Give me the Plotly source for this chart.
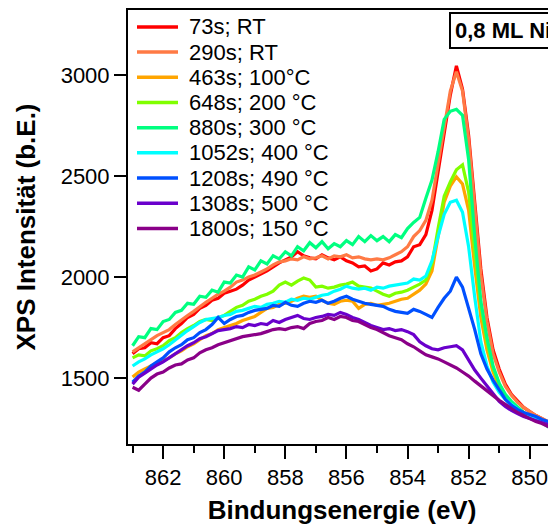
import plotly.graph_objects as go

energy = [863.0, 862.8, 862.6, 862.4, 862.2, 862.0, 861.8, 861.6, 861.4, 861.2,
          861.0, 860.8, 860.6, 860.4, 860.2, 860.0, 859.8, 859.6, 859.4, 859.2,
          859.0, 858.8, 858.6, 858.4, 858.2, 858.0, 857.8, 857.6, 857.4, 857.2,
          857.0, 856.8, 856.6, 856.4, 856.2, 856.0, 855.8, 855.6, 855.4, 855.2,
          855.0, 854.8, 854.6, 854.4, 854.2, 854.0, 853.8, 853.6, 853.4, 853.2,
          853.0, 852.8, 852.6, 852.4, 852.2, 852.0, 851.8, 851.6, 851.4, 851.2,
          851.0, 850.8, 850.6, 850.4, 850.2, 850.0, 849.8, 849.6, 849.4, 849.2,
          849.0]

s073_RT = [1620, 1645, 1650, 1675, 1670, 1700, 1710, 1745, 1770, 1800,
           1815, 1845, 1860, 1885, 1895, 1920, 1930, 1940, 1960, 1985,
           2000, 2015, 2030, 2050, 2070, 2085, 2100, 2125, 2105, 2095,
           2090, 2110, 2095, 2085, 2100, 2080, 2070, 2050, 2055, 2030,
           2040, 2070, 2060, 2075, 2080, 2100, 2150, 2160, 2210, 2330,
           2520, 2720, 2900, 3045, 2930, 2700, 2380, 2040, 1800, 1640,
           1545, 1470, 1420, 1385, 1355, 1335, 1315, 1300, 1280, 1260,
           1245]

s290_RT = [1630, 1650, 1670, 1690, 1710, 1725, 1740, 1765, 1790, 1810,
           1830, 1855, 1875, 1895, 1915, 1930, 1950, 1975, 1985, 2000,
           2010, 2025, 2040, 2060, 2075, 2080, 2090, 2085, 2100, 2090,
           2095, 2105, 2090, 2105, 2100, 2110, 2095, 2100, 2090, 2085,
           2090, 2085, 2095, 2110, 2125, 2150, 2200, 2230, 2280, 2380,
           2560, 2760, 2920, 3015, 2920, 2680, 2350, 2010, 1780, 1620,
           1530, 1460, 1415, 1380, 1355, 1335, 1315, 1300, 1285, 1270,
           1255]

s463_100C = [1505, 1530, 1545, 1560, 1575, 1585, 1600, 1620, 1635, 1655,
             1670, 1690, 1710, 1720, 1740, 1750, 1760, 1770, 1785, 1795,
             1805, 1825, 1845, 1850, 1865, 1870, 1880, 1895, 1905, 1900,
             1905, 1885, 1870, 1865, 1880, 1885, 1880, 1845, 1865, 1870,
             1860, 1865, 1870, 1880, 1890, 1895, 1915, 1935, 1965, 2030,
             2200, 2370, 2450, 2495, 2460, 2330, 2050, 1800, 1640, 1530,
             1455, 1410, 1375, 1350, 1330, 1310, 1295, 1280, 1265, 1250,
             1240]

s648_200C = [1600, 1615, 1610, 1635, 1645, 1660, 1685, 1700, 1725, 1745,
             1760, 1780, 1790, 1785, 1800, 1810, 1830, 1850, 1860, 1880,
             1890, 1905, 1915, 1930, 1960, 1975, 1960, 1980, 1995, 1985,
             1950, 1955, 1945, 1950, 1960, 1965, 1975, 1955, 1950, 1945,
             1930, 1915, 1905, 1920, 1925, 1935, 1950, 1965, 1985, 2065,
             2240, 2400, 2470, 2530, 2555, 2420, 2130, 1860, 1680, 1550,
             1470, 1415, 1380, 1350, 1330, 1310, 1295, 1280, 1265, 1250,
             1235]

s880_300C = [1660, 1705, 1700, 1745, 1740, 1780, 1790, 1825, 1835, 1870,
             1865, 1905, 1900, 1935, 1925, 1975, 1970, 2010, 2000, 2050,
             2035, 2080, 2065, 2105, 2090, 2125, 2105, 2150, 2130, 2170,
             2145, 2175, 2140, 2165, 2150, 2180, 2160, 2200, 2175, 2205,
             2180, 2200, 2175, 2210, 2195, 2240, 2270, 2295, 2390, 2480,
             2620, 2780, 2820, 2830, 2800, 2580, 2200, 1880, 1700, 1560,
             1475, 1420, 1385, 1355, 1330, 1310, 1295, 1280, 1260, 1240,
             1225]

s1052_400C = [1560, 1580, 1595, 1615, 1630, 1645, 1665, 1690, 1710, 1735,
              1755, 1775, 1790, 1795, 1800, 1810, 1815, 1830, 1835, 1845,
              1855, 1850, 1865, 1870, 1880, 1875, 1890, 1885, 1895, 1890,
              1900, 1910, 1915, 1930, 1940, 1955, 1945, 1940, 1945, 1935,
              1950, 1945, 1955, 1960, 1965, 1970, 1990, 1985, 2005, 2080,
              2200, 2310, 2370, 2380, 2320, 2150, 1900, 1680, 1560, 1480,
              1430, 1395, 1370, 1345, 1325, 1310, 1295, 1280, 1265, 1250,
              1235]

s1208_490C = [1480, 1510, 1530, 1560, 1580, 1600, 1630, 1650, 1665, 1690,
              1700, 1725, 1740, 1765, 1800, 1770, 1790, 1805, 1810, 1825,
              1835, 1840, 1845, 1860, 1855, 1875, 1860, 1855, 1870, 1880,
              1875, 1885, 1870, 1880, 1895, 1905, 1890, 1880, 1870, 1865,
              1860, 1855, 1840, 1830, 1825, 1820, 1840, 1830, 1815, 1800,
              1850, 1895, 1930, 2000, 1950, 1850, 1740, 1620, 1545, 1490,
              1440, 1395, 1365, 1345, 1330, 1320, 1310, 1295, 1285, 1265,
              1255]

s1308_500C = [1470, 1505, 1525, 1545, 1565, 1580, 1600, 1620, 1640, 1660,
              1675, 1695, 1705, 1720, 1735, 1740, 1745, 1755, 1750, 1765,
              1760, 1770, 1765, 1785, 1775, 1790, 1800, 1810, 1795, 1790,
              1800, 1805, 1815, 1810, 1825, 1815, 1800, 1790, 1775, 1760,
              1750, 1740, 1745, 1735, 1740, 1730, 1715, 1680, 1660, 1645,
              1640, 1650, 1655, 1660, 1640, 1590, 1540, 1500, 1460, 1420,
              1385, 1360, 1340, 1325, 1310, 1300, 1290, 1280, 1270, 1255,
              1245]

s1800_150C = [1455, 1440, 1470, 1500, 1520, 1530, 1550, 1565, 1570, 1590,
              1600, 1625, 1640, 1650, 1665, 1675, 1685, 1695, 1705, 1710,
              1715, 1720, 1730, 1740, 1745, 1740, 1750, 1755, 1745, 1770,
              1780, 1785, 1800, 1790, 1805, 1800, 1785, 1780, 1765, 1750,
              1740, 1725, 1710, 1700, 1690, 1670, 1655, 1635, 1615, 1605,
              1595, 1580, 1565, 1550, 1530, 1510, 1485, 1460, 1435, 1410,
              1390, 1370, 1350, 1330, 1315, 1300, 1285, 1275, 1260, 1245,
              1230]

series_names = ["73s; RT", "290s; RT", "463s; 100°C", "648s; 200 °C", "880s; 300 °C",
                "1052s; 400 °C", "1208s; 490 °C", "1308s; 500 °C", "1800s; 150 °C"]
series_values = [s073_RT, s290_RT, s463_100C, s648_200C, s880_300C,
                 s1052_400C, s1208_490C, s1308_500C, s1800_150C]
series_colors = ["#FF0000", "#FF7A45", "#FFA500", "#80FF00", "#00FF80",
                 "#00FFFF", "#0050FF", "#6A00CC", "#8A0088"]

x_ticks = [862, 860, 858, 856, 854, 852, 850]
x_minor_ticks = [863, 861, 859, 857, 855, 853, 851, 849]
y_ticks = [1500, 2000, 2500, 3000]

FONT = "Liberation Sans, Arial, sans-serif"

fig = go.Figure()
for name, vals, col in zip(series_names, series_values, series_colors):
    fig.add_trace(go.Scatter(x=energy, y=vals, mode="lines", name=name,
                             line=dict(color=col, width=3.2), showlegend=False))

# page has an 8 px body margin; figure sized to fill the 556x527 window
OFF = 8
W, H = 556 - OFF, 527 - OFF
L, R, T = 128 - OFF, 0, 0
B = H - (444 - OFF)
pw, ph = W - L - R, H - T - B

def px_to_paper(px, py):
    return (px - OFF - L) / pw, (H - B - (py - OFF)) / ph

# legend drawn as line samples + labels
for i, (name, col) in enumerate(zip(series_names, series_colors)):
    cy = 25 + 25.3 * i
    x0, y0 = px_to_paper(137, cy)
    x1, _ = px_to_paper(178, cy)
    fig.add_shape(type="line", xref="paper", yref="paper", x0=x0, x1=x1, y0=y0, y1=y0,
                  line=dict(color=col, width=3.5))
    tx, ty = px_to_paper(187, cy)
    fig.add_annotation(xref="paper", yref="paper", x=tx, y=ty, text=name, showarrow=False,
                       xanchor="left", yanchor="middle",
                       font=dict(family=FONT, size=22, color="black"))

bx, by = px_to_paper(449, 10)
fig.add_annotation(xref="paper", yref="paper", x=bx, y=by, text="<b>0,8 ML Ni</b>",
                   showarrow=False, xanchor="left", yanchor="top",
                   font=dict(family=FONT, size=22, color="black"),
                   bordercolor="black", borderwidth=2, borderpad=4, bgcolor="white")

fig.update_layout(
    width=W, height=H,
    margin=dict(l=L, r=R, t=T, b=B),
    paper_bgcolor="white", plot_bgcolor="white",
    font=dict(family=FONT, size=22, color="black"),
    xaxis=dict(range=[863.15, 849.14], tickvals=x_ticks, ticks="outside", ticklen=13,
               tickwidth=2, tickcolor="black", showline=True, linewidth=2, linecolor="black",
               mirror=True, showgrid=False, zeroline=False,
               tickfont=dict(family=FONT, size=22),
               minor=dict(tickvals=x_minor_ticks, ticks="outside",
                          ticklen=7, tickwidth=2, tickcolor="black", showgrid=False),
               title=dict(text="<b>Bindungsenergie (eV)</b>", font=dict(family=FONT, size=26),
                          standoff=11)),
    yaxis=dict(range=[1174, 3321], tickvals=y_ticks, ticks="outside", ticklen=12,
               tickwidth=2, tickcolor="black", showline=True, linewidth=2, linecolor="black",
               showgrid=False, zeroline=False, tickfont=dict(family=FONT, size=22),
               title=dict(text="<b>XPS Intensität (b.E.)</b>", font=dict(family=FONT, size=26),
                          standoff=18)),
)

fig.write_html("out.html")
